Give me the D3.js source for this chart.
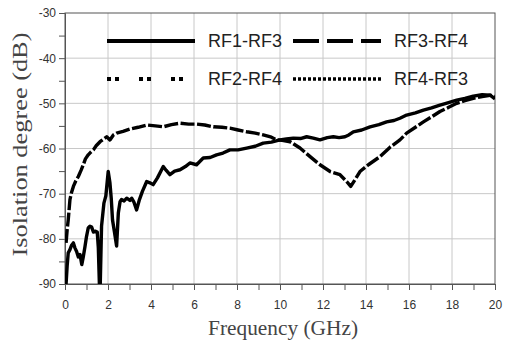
<!DOCTYPE html>
<html>
<head>
<meta charset="utf-8">
<script src="https://cdn.jsdelivr.net/npm/d3@7"></script>
<style>
  body { margin: 0; background: #fff; }
  svg { display: block; }
</style>
</head>
<body>
<div id="chart"></div>
<script>
const kWidth = 506;
const kHeight = 343;
const kMargin = { left: 65, right: 11, top: 13, bottom: 59 };

const xTicks = [0, 2, 4, 6, 8, 10, 12, 14, 16, 18, 20];
const yTicks = [-30, -40, -50, -60, -70, -80, -90];
const seriesNames = ["RF1-RF3", "RF3-RF4", "RF2-RF4", "RF4-RF3"];

// RF1-RF3 (solid) - noisy at low frequency, rises steadily
const rf13Freq = [0.05, 0.1, 0.15, 0.23, 0.3, 0.39, 0.46, 0.54, 0.62, 0.7, 0.78, 0.85, 0.93, 1.0, 1.08, 1.16, 1.24, 1.32, 1.4, 1.5, 1.55, 1.6, 1.64, 1.7, 1.81, 1.9, 2.01, 2.09, 2.15, 2.21, 2.3, 2.4, 2.48, 2.56, 2.63, 2.75, 2.87, 3.02, 3.1, 3.2, 3.33, 3.45, 3.6, 3.8, 3.95, 4.1, 4.3, 4.57, 4.7, 4.88, 5.1, 5.35, 5.6, 5.81, 6.12, 6.43, 6.75, 7.05, 7.35, 7.67, 8.05, 8.45, 8.85, 9.22, 9.6, 10.0, 10.3, 10.62, 10.95, 11.24, 11.55, 11.86, 12.2, 12.48, 12.75, 13.02, 13.2, 13.41, 13.8, 14.19, 14.6, 14.96, 15.3, 15.58, 15.89, 16.3, 16.67, 17.05, 17.44, 17.8, 18.22, 18.6, 18.99, 19.4, 19.77, 20.0];
const rf13Val = [-90, -86, -83.1, -82.4, -81.5, -80.9, -82.0, -82.8, -84.0, -83.5, -85.7, -84.0, -81.7, -79.5, -77.6, -77.2, -77.4, -78.5, -78.3, -78.5, -82, -90, -90, -77.2, -72.1, -70.5, -65.1, -67.6, -71, -75.8, -78.5, -81.6, -74.3, -71.8, -71.3, -71.6, -71.0, -71.5, -71.0, -71.8, -73.6, -71.5, -69.5, -67.3, -67.6, -68.0, -66.5, -64.0, -64.8, -65.8, -65.0, -64.7, -64.0, -63.2, -63.6, -62.1, -62.0, -61.4, -61.0, -60.3, -60.3, -59.9, -59.5, -58.8, -58.6, -58.1, -57.9, -57.7, -57.8, -57.4, -57.7, -58.1, -57.6, -57.4, -57.6, -57.4, -57.0, -56.3, -55.9, -55.2, -54.7, -54.1, -53.8, -53.3, -52.6, -52.1, -51.5, -51.0, -50.4, -49.9, -49.3, -48.9, -48.4, -48.1, -48.2, -49.0];

// RF3-RF4 (dashed) - fast rise, then a notch near 13.3 GHz
const rf34Freq = [0.05, 0.1, 0.15, 0.23, 0.3, 0.39, 0.5, 0.62, 0.75, 0.85, 0.95, 1.08, 1.2, 1.32, 1.45, 1.63, 1.8, 1.94, 2.09, 2.25, 2.4, 2.7, 3.02, 3.4, 3.8, 4.2, 4.57, 4.95, 5.35, 5.75, 6.12, 6.5, 6.9, 7.3, 7.67, 8.05, 8.45, 8.85, 9.22, 9.6, 9.85, 10.1, 10.47, 10.93, 11.4, 11.86, 12.33, 12.79, 13.1, 13.29, 13.49, 13.72, 14.11, 14.65, 15.12, 15.58, 15.89, 16.3, 16.67, 17.05, 17.44, 17.8, 18.22, 18.6, 18.99, 19.4, 19.77, 20.0];
const rf34Val = [-80.9, -78.0, -75.8, -71.3, -69.8, -68.4, -67.2, -66.2, -64.8, -63.6, -62.3, -61.4, -60.8, -60.3, -59.4, -58.5, -57.9, -57.4, -58.1, -57.0, -56.6, -56.2, -55.7, -55.3, -54.8, -55.0, -55.2, -54.7, -54.4, -54.6, -54.6, -54.8, -55.2, -55.3, -55.5, -55.9, -56.3, -56.6, -57.0, -57.5, -58.1, -58.2, -58.5, -59.9, -61.8, -63.6, -65.1, -65.8, -67.3, -68.4, -66.9, -65.1, -63.6, -61.8, -59.7, -58.1, -56.6, -55.3, -54.1, -53.0, -51.8, -51.0, -50.0, -49.4, -48.9, -48.5, -48.2, -48.5];

const svg = d3.select("#chart")
  .append("svg")
  .attr("width", kWidth)
  .attr("height", kHeight);

const xMin = kMargin.left;
const xMax = kWidth - kMargin.right;
const yMin = kMargin.top;
const yMax = kHeight - kMargin.bottom;

const xScale = d3.scaleLinear().domain([0, 20]).range([xMin, xMax]);
const yScale = d3.scaleLinear().domain([-90, -30]).range([yMax, yMin]);

// grid
const grid = svg.append("g").attr("stroke", "#c8c8c8").attr("stroke-width", 1);
xTicks.slice(1, -1).forEach(t => {
  grid.append("line")
    .attr("x1", xScale(t)).attr("x2", xScale(t))
    .attr("y1", yMin).attr("y2", yMax);
});
yTicks.slice(1, -1).forEach(t => {
  grid.append("line")
    .attr("x1", xMin).attr("x2", xMax)
    .attr("y1", yScale(t)).attr("y2", yScale(t));
});

// frame
svg.append("rect")
  .attr("x", xMin).attr("y", yMin)
  .attr("width", xMax - xMin).attr("height", yMax - yMin)
  .attr("fill", "none")
  .attr("stroke", "#555")
  .attr("stroke-width", 1);

const xAxis = d3.axisBottom(xScale)
  .tickValues(d3.range(0, 21, 1))
  .tickSize(6)
  .tickFormat(d => d % 2 === 0 ? d : "");
const yAxis = d3.axisLeft(yScale)
  .tickValues(d3.range(-90, -29, 5))
  .tickSize(6)
  .tickFormat(d => d % 10 === 0 ? d : "");

const gx = svg.append("g")
  .attr("transform", `translate(0, ${yMax})`)
  .call(xAxis);
const gy = svg.append("g")
  .attr("transform", `translate(${xMin}, 0)`)
  .call(yAxis);

[gx, gy].forEach(g => {
  g.select(".domain").attr("stroke", "#555");
  g.selectAll(".tick line").attr("stroke", "#555");
  g.selectAll(".tick text")
    .attr("fill", "#333")
    .style("font-family", "'Liberation Sans', Arial, sans-serif")
    .style("font-size", "12px");
});
gx.selectAll(".tick text").attr("dy", "1.3em");
gy.selectAll(".tick text").attr("x", -9);

// axis titles
svg.append("text")
  .attr("x", (xMin + xMax) / 2 + 3)
  .attr("y", 335)
  .attr("text-anchor", "middle")
  .attr("fill", "#444")
  .style("font-family", "'Liberation Serif', 'DejaVu Serif', serif")
  .style("font-size", "20px")
  .attr("textLength", 150)
  .attr("lengthAdjust", "spacingAndGlyphs")
  .text("Frequency (GHz)");

svg.append("text")
  .attr("transform", `translate(27, ${(yMin + yMax) / 2 - 4}) rotate(-90)`)
  .attr("text-anchor", "middle")
  .attr("fill", "#444")
  .style("font-family", "'Liberation Serif', 'DejaVu Serif', serif")
  .style("font-size", "20px")
  .attr("textLength", 224)
  .attr("lengthAdjust", "spacingAndGlyphs")
  .text("Isolation degree (dB)");

// curves
const line = d3.line()
  .x(d => xScale(d[0]))
  .y(d => yScale(d[1]));

svg.append("clipPath").attr("id", "plot-clip")
  .append("rect")
  .attr("x", xMin).attr("y", yMin)
  .attr("width", xMax - xMin).attr("height", yMax - yMin);

const curves = svg.append("g").attr("clip-path", "url(#plot-clip)");

curves.append("path")
  .datum(d3.zip(rf34Freq, rf34Val))
  .attr("d", line)
  .attr("fill", "none")
  .attr("stroke", "#000")
  .attr("stroke-width", 3.4)
  .attr("stroke-dasharray", "14,2.5")
  .attr("stroke-linejoin", "round");

curves.append("path")
  .datum(d3.zip(rf13Freq, rf13Val))
  .attr("d", line)
  .attr("fill", "none")
  .attr("stroke", "#000")
  .attr("stroke-width", 3.4)
  .attr("stroke-linejoin", "round");

// legend
const legendStyles = [
  { dash: null, w: 4 },
  { dash: "26,8", w: 4 },
  { dash: "4,4,4,20", w: 4 },
  { dash: "3,2", w: 3.5 }
];
const legendX = [107, 293, 107, 293];
const legendY = [41, 41, 79, 79];

const legend = svg.append("g");
seriesNames.forEach((name, i) => {
  legend.append("line")
    .attr("x1", legendX[i]).attr("x2", legendX[i] + 88)
    .attr("y1", legendY[i]).attr("y2", legendY[i])
    .attr("stroke", "#000")
    .attr("stroke-width", legendStyles[i].w)
    .attr("stroke-dasharray", legendStyles[i].dash);
  legend.append("text")
    .attr("x", legendX[i] + 101)
    .attr("y", legendY[i] + 6)
    .attr("fill", "#222")
    .style("font-family", "'Liberation Sans', Arial, sans-serif")
    .style("font-size", "18px")
    .text(name);
});
</script>
</body>
</html>
